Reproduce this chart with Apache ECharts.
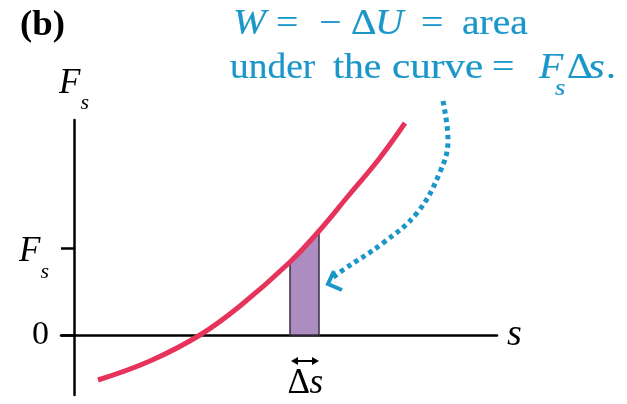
<!DOCTYPE html>
<html>
<head>
<meta charset="utf-8">
<script src="https://cdn.jsdelivr.net/npm/echarts@6/dist/echarts.min.js"></script>
<style>
  html, body { margin: 0; padding: 0; background: #fff; }
  #chart { width: 627px; height: 404px; }
</style>
</head>
<body>
<div id="chart"></div>
<script>
// Spring force F_s as a function of the displacement s
const sValues = [2.4, 7.6, 12.6, 16.6, 21.6, 24.5, 27.5, 30.5, 33.1];
const forceValues = [-4.5, -2.6, 0, 2.9, 7.3, 10.4, 14.0, 17.6, 21.2];

// The shaded strip of width Δs runs between these two curve points
const stripStart = 4;
const stripEnd = 5;

// Average force level over the strip, marked on the vertical axis
const forceLevel = 8.7;
const yTickValues = [0, forceLevel];

// Dotted pointer from the caption down to the strip
const pointerS = [36.9, 37.4, 36.6, 34.3, 30.9, 26.9, 25.7];
const pointerF = [23.4, 19.5, 16.3, 12.2, 9.2, 6.5, 5.6];
const pointerTip = [25.4, 5.1];

const RED = '#e6335c';
const BLUE = '#1a96c9';
const PURPLE = '#ad8cc1';
const SERIF = '"Liberation Serif", "Times New Roman", serif';

const chart = echarts.init(document.getElementById('chart'), null, { renderer: 'canvas' });

// F with subscript s, used for the axis name
const richName = {
  F: { fontFamily: SERIF, fontStyle: 'italic', fontSize: 35, lineHeight: 40, color: '#000' },
  s: { fontFamily: SERIF, fontStyle: 'italic', fontSize: 22, lineHeight: 40, color: '#000', padding: [38, 0, 0, 0] }
};
// same, slightly lowered, for the tick label
const richTick = {
  F: { fontFamily: SERIF, fontStyle: 'italic', fontSize: 35, lineHeight: 40, color: '#000', padding: [8, 0, 0, 0] },
  s: { fontFamily: SERIF, fontStyle: 'italic', fontSize: 22, lineHeight: 40, color: '#000', padding: [48, 0, 0, 0] },
  n: { fontFamily: SERIF, fontSize: 34, lineHeight: 40, color: '#000' }
};

// caption piece placed by its left edge and baseline
function piece(text, x, baseline, size, italic, color, bold, sx) {
  const fill = color || BLUE;
  return {
    type: 'text',
    x: x,
    y: baseline - 0.33 * size,
    scaleX: sx || 1.1,
    style: {
      text: text,
      font: (italic ? 'italic ' : '') + (bold ? 'bold ' : '') + size + 'px ' + SERIF,
      fill: fill,
      stroke: fill,
      lineWidth: bold ? 0 : 0.2,
      verticalAlign: 'middle',
      align: 'left'
    }
  };
}

const caption = [
  piece('(b)', 20, 38, 35, false, '#000', true, 1.05),
  piece('W', 233, 36, 36, true),
  piece('=', 276, 36, 36, false),
  piece('\u2212', 319, 36, 36, false),
  piece('\u0394', 351, 36, 36, false),
  piece('U', 375, 36, 36, true),
  piece('=', 421, 36, 36, false),
  piece('area', 462, 36, 36, false),
  piece('under', 230, 80, 36, false, null, false, 1.04),
  piece('the', 333, 80, 36, false),
  piece('curve', 392, 80, 36, false, null, false, 1.14),
  piece('=', 492, 80, 36, false),
  piece('F', 539, 80, 36, true),
  piece('s', 555, 97, 24, true),
  piece('\u0394', 567, 80, 36, false),
  piece('s', 588, 80, 36, true, null, false, 1.2),
  piece('.', 606, 80, 36, false)
];

const option = {
  animation: false,
  backgroundColor: '#fff',
  grid: { left: 61, right: 130, top: 120, bottom: 9, outerBoundsMode: 'none' },
  xAxis: {
    type: 'value',
    min: -1.3,
    max: 42.3,
    axisLine: { onZero: true, lineStyle: { color: '#000', width: 2.5 } },
    axisTick: { show: false },
    splitLine: { show: false },
    axisLabel: { show: false },
    name: 's',
    nameLocation: 'end',
    nameGap: 10,
    nameTextStyle: { fontFamily: SERIF, fontStyle: 'italic', fontSize: 38, color: '#000', verticalAlign: 'middle' }
  },
  yAxis: {
    type: 'value',
    min: -6,
    max: 21.5,
    axisLine: { onZero: true, lineStyle: { color: '#000', width: 2.5 } },
    axisTick: { customValues: yTickValues, length: 13, lineStyle: { color: '#000', width: 2.5 } },
    splitLine: { show: false },
    axisLabel: {
      customValues: yTickValues,
      margin: 12,
      formatter: function (v) { return v === 0 ? '{n|0}' : '{F|F}{s|s}'; },
      rich: richTick
    },
    name: '{F|F}{s|s}',
    nameLocation: 'end',
    nameGap: 16,
    nameTextStyle: { rich: richName }
  },
  graphic: caption,
  series: [
    {
      // strip under the curve with its Δs width marker and label
      type: 'custom',
      clip: false,
      z: 2,
      data: [[sValues[stripStart], forceValues[stripStart], sValues[stripEnd], forceValues[stripEnd]]],
      encode: { x: [0, 2], y: [1, 3] },
      renderItem: function (params, api) {
        const a = api.coord([api.value(0), 0]);
        const b = api.coord([api.value(0), api.value(1)]);
        const c = api.coord([api.value(2), api.value(3)]);
        const d = api.coord([api.value(2), 0]);
        const y = a[1] + 26;
        const x0 = a[0] + 1;
        const x1 = d[0];
        const mid = (a[0] + d[0]) / 2;
        return {
          type: 'group',
          children: [
            { type: 'polygon', shape: { points: [a, b, c, d] }, style: { fill: PURPLE, stroke: '#3a3040', lineWidth: 1.5 } },
            { type: 'line', shape: { x1: x0 + 4, y1: y, x2: x1 - 4, y2: y }, style: { stroke: '#000', lineWidth: 2 } },
            { type: 'polygon', shape: { points: [[x0 + 7, y - 4], [x0, y], [x0 + 7, y + 4]] }, style: { fill: '#000' } },
            { type: 'polygon', shape: { points: [[x1 - 7, y - 4], [x1, y], [x1 - 7, y + 4]] }, style: { fill: '#000' } },
            {
              type: 'text',
              x: mid - 17,
              y: a[1] + 49,
              style: { text: '\u0394', font: '35px ' + SERIF, fill: '#000', align: 'left', verticalAlign: 'middle' }
            },
            {
              type: 'text',
              x: mid + 5,
              y: a[1] + 49,
              style: { text: 's', font: 'italic 35px ' + SERIF, fill: '#000', align: 'left', verticalAlign: 'middle' }
            }
          ]
        };
      }
    },
    {
      type: 'line',
      z: 3,
      data: sValues.map(function (s, i) { return [s, forceValues[i]]; }),
      smooth: 0.4,
      symbol: 'none',
      lineStyle: { color: RED, width: 5 }
    },
    {
      type: 'line',
      z: 3,
      clip: false,
      data: pointerS.map(function (s, i) { return [s, pointerF[i]]; }),
      smooth: 0.4,
      symbol: 'none',
      lineStyle: { color: BLUE, width: 5, type: [4.5, 4], cap: 'butt' }
    },
    {
      type: 'custom',
      clip: false,
      z: 3,
      data: [pointerTip],
      renderItem: function (params, api) {
        const p = api.coord([api.value(0), api.value(1)]);
        return {
          type: 'polyline',
          shape: { points: [[p[0] + 6, p[1] - 13], [p[0], p[1]], [p[0] + 14, p[1] + 6]] },
          style: { stroke: BLUE, lineWidth: 4, fill: null }
        };
      }
    }
  ]
};

chart.setOption(option);
</script>
</body>
</html>
